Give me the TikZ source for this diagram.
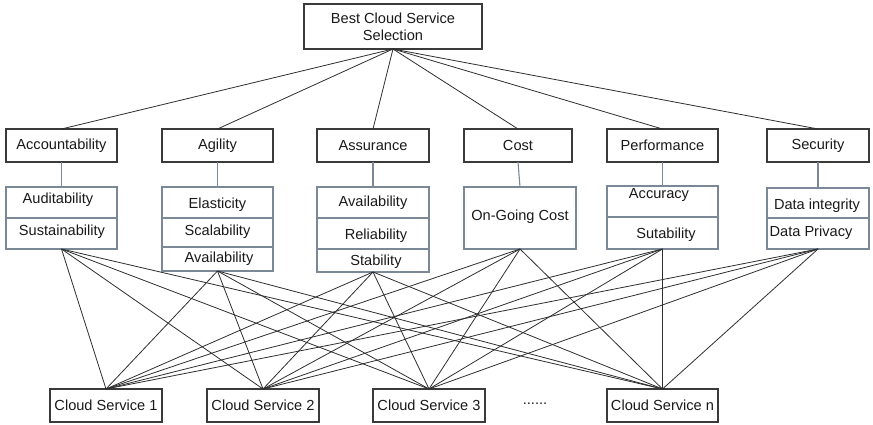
\documentclass[tikz,border=0pt]{standalone}
\usepackage{fontspec}
\setmainfont{Liberation Sans}
\definecolor{boxline}{HTML}{3A3A3A}
\definecolor{cellline}{HTML}{7A8898}
\definecolor{wire}{HTML}{2E2E2E}
\begin{document}
\begin{tikzpicture}[x=1pt,y=-1pt,
  every node/.style={font=\fontsize{14.6}{17}\selectfont, text=black!90, inner sep=0pt, outer sep=0pt},
  mainbox/.style={draw=boxline, line width=1.2pt, minimum height=33pt},
  cell/.style={draw=cellline, line width=1.1pt},
  lbl/.style={anchor=center},
  wire/.style={draw=wire, line width=0.8pt},
  stem/.style={draw=cellline, line width=1.1pt}]
\useasboundingbox (0,0) rectangle (873,425);

% goal
\node[mainbox, minimum width=178pt, minimum height=45pt, align=center] (goal) at (393,26.5)
  {Best Cloud Service\\Selection};

% criteria
\node[mainbox, minimum width=111pt] (acc) at (61.5,145.5) {Accountability};
\node[mainbox, minimum width=111pt] (agi) at (217.5,145.5) {Agility};
\node[mainbox, minimum width=112pt] (ass) at (373,145.5) {Assurance};
\node[mainbox, minimum width=108pt] (cost) at (518,145.5) {Cost};
\node[mainbox, minimum width=111pt] (perf) at (662.5,145.5) {Performance};
\node[mainbox, minimum width=102pt] (sec) at (818,145.5) {Security};

% sub-criteria cells
\node[cell, minimum width=111pt, minimum height=31pt] (accA) at (61.5,202.5) {};
\node[cell, minimum width=111pt, minimum height=31pt] (accB) at (61.5,233.5) {};
\node[lbl] (accAt) at (58,200) {Auditability};
\node[lbl] (accBt) at (62,232) {Sustainability};

\node[cell, minimum width=111pt, minimum height=31pt] (agiA) at (217.5,202.5) {};
\node[cell, minimum width=111pt, minimum height=29pt] (agiB) at (217.5,232.5) {};
\node[cell, minimum width=111pt, minimum height=24pt] (agiC) at (217.5,259) {};
\node[lbl] (agiAt) at (217.5,205) {Elasticity};
\node[lbl] (agiBt) at (217.5,232) {Scalability};
\node[lbl] (agiCt) at (219,259) {Availability};

\node[cell, minimum width=112pt, minimum height=31pt] (assA) at (373,202.5) {};
\node[cell, minimum width=112pt, minimum height=31pt] (assB) at (373,233.5) {};
\node[cell, minimum width=112pt, minimum height=23pt] (assC) at (373,260.5) {};
\node[lbl] (assAt) at (373,203) {Availability};
\node[lbl] (assBt) at (376,236) {Reliability};
\node[lbl] (assCt) at (376,262) {Stability};

\node[cell, minimum width=112pt, minimum height=62pt] (costA) at (520,218) {};
\node[lbl] (costAt) at (520,217) {On-Going Cost};

\node[cell, minimum width=111pt, minimum height=31pt] (perfA) at (662.5,201.5) {};
\node[cell, minimum width=111pt, minimum height=32pt] (perfB) at (662.5,233) {};
\node[lbl] (perfAt) at (659,195) {Accuracy};
\node[lbl] (perfBt) at (666,235) {Sutability};

\node[cell, minimum width=102pt, minimum height=30pt] (secA) at (818,203) {};
\node[cell, minimum width=102pt, minimum height=31pt] (secB) at (818,233.5) {};
\node[lbl] (secAt) at (817,206) {Data integrity};
\node[lbl] (secBt) at (811,233) {Data Privacy};

% alternatives
\node[mainbox, minimum width=112pt] (cs1) at (106,405.5) {Cloud Service 1};
\node[mainbox, minimum width=112pt] (cs2) at (263,405.5) {Cloud Service 2};
\node[mainbox, minimum width=112pt] (cs3) at (429,405.5) {Cloud Service 3};
\node[lbl] (dots) at (535,404) {......};
\node[mainbox, minimum width=111pt] (csn) at (662.5,405.5) {Cloud Service n};

% goal to criteria
\foreach \c in {acc,agi,ass,cost,perf,sec}
  \draw[wire] (goal.south) -- (\c.north);

% criteria to their sub-criteria
\draw[stem] (acc.south) -- (accA.north);
\draw[stem] (agi.south) -- (agiA.north);
\draw[stem] (ass.south) -- (assA.north);
\draw[stem] (cost.south) -- (costA.north);
\draw[stem] (perf.south) -- (perfA.north);
\draw[stem] (sec.south) -- (secA.north);

% sub-criteria to every alternative
\foreach \s in {accB,agiC,assC,costA,perfB,secB}
  \foreach \a in {cs1,cs2,cs3,csn}
    \draw[wire] (\s.south) -- (\a.north);
\end{tikzpicture}
\end{document}
